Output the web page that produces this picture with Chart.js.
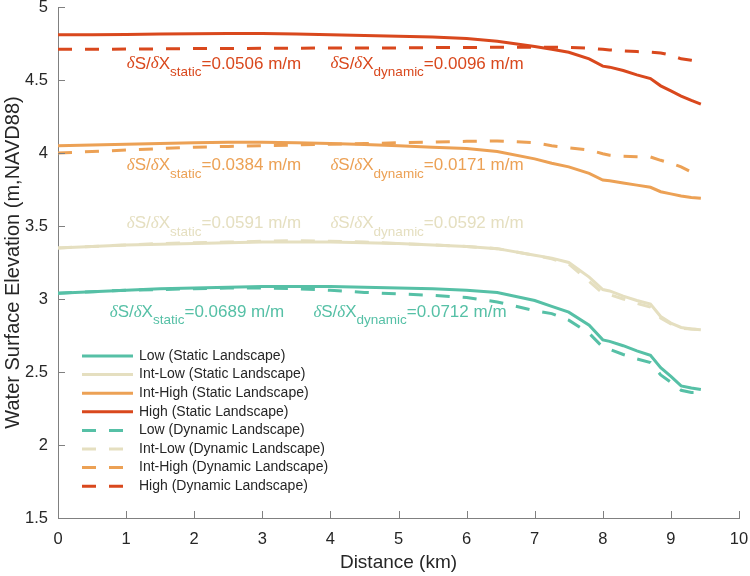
<!DOCTYPE html>
<html>
<head>
<meta charset="utf-8">
<script src="https://cdn.jsdelivr.net/npm/chart.js@4"></script>
<style>
  html, body { margin: 0; padding: 0; background: #fff; }
  #wrap { width: 750px; height: 576px; }
</style>
</head>
<body>
<div id="wrap"><canvas id="elev"></canvas></div>
<script>
// distance along the channel (km)
const distance = [0, 0.5, 1, 1.5, 2, 2.5, 3, 3.5, 4, 4.5, 5, 5.5, 6, 6.45, 7, 7.25, 7.5, 7.8, 8.0, 8.1, 8.3, 8.5, 8.7, 8.85, 9.0, 9.15, 9.3, 9.44];

const lowStatic      = [3.04, 3.05, 3.06, 3.07, 3.075, 3.08, 3.085, 3.085, 3.085, 3.08, 3.075, 3.07, 3.06, 3.045, 2.99, 2.95, 2.91, 2.82, 2.72, 2.71, 2.68, 2.645, 2.615, 2.53, 2.47, 2.405, 2.39, 2.38];
const intLowStatic   = [3.35, 3.36, 3.37, 3.375, 3.38, 3.385, 3.39, 3.39, 3.39, 3.385, 3.38, 3.37, 3.36, 3.345, 3.30, 3.28, 3.25, 3.15, 3.065, 3.055, 3.02, 2.99, 2.965, 2.88, 2.835, 2.805, 2.795, 2.79];
const intHighStatic  = [4.05, 4.055, 4.06, 4.065, 4.07, 4.073, 4.073, 4.07, 4.065, 4.058, 4.05, 4.04, 4.03, 4.01, 3.96, 3.93, 3.905, 3.86, 3.815, 3.81, 3.795, 3.78, 3.765, 3.735, 3.72, 3.705, 3.695, 3.69];
const highStatic     = [4.81, 4.81, 4.812, 4.815, 4.817, 4.818, 4.818, 4.815, 4.81, 4.805, 4.80, 4.795, 4.785, 4.765, 4.73, 4.71, 4.69, 4.645, 4.595, 4.588, 4.565, 4.535, 4.51, 4.46, 4.425, 4.39, 4.36, 4.335];
const lowDynamic     = [3.04, 3.05, 3.06, 3.065, 3.07, 3.075, 3.075, 3.07, 3.06, 3.045, 3.035, 3.025, 3.01, 2.98, 2.92, 2.90, 2.855, 2.765, 2.67, 2.655, 2.62, 2.59, 2.565, 2.48, 2.43, 2.375, 2.36, 2.36];
const intLowDynamic  = [3.35, 3.36, 3.37, 3.38, 3.385, 3.39, 3.395, 3.40, 3.395, 3.39, 3.38, 3.37, 3.36, 3.345, 3.30, 3.275, 3.24, 3.12, 3.04, 3.03, 3.00, 2.97, 2.945, 2.87, 2.83, 2.80, 2.795, 2.79];
const intHighDynamic = [4.00, 4.01, 4.02, 4.03, 4.04, 4.045, 4.05, 4.055, 4.06, 4.065, 4.07, 4.075, 4.08, 4.083, 4.07, 4.05, 4.035, 4.02, 3.995, 3.985, 3.978, 3.975, 3.973, 3.95, 3.93, 3.905, 3.87, 3.845];
const highDynamic    = [4.71, 4.71, 4.712, 4.713, 4.715, 4.716, 4.717, 4.718, 4.72, 4.72, 4.72, 4.722, 4.723, 4.724, 4.725, 4.725, 4.724, 4.718, 4.71, 4.706, 4.70, 4.695, 4.69, 4.685, 4.67, 4.645, 4.635, 4.625];

const seriesLabels = ['Low (Static Landscape)', 'Int-Low (Static Landscape)', 'Int-High (Static Landscape)', 'High (Static Landscape)',
  'Low (Dynamic Landscape)', 'Int-Low (Dynamic Landscape)', 'Int-High (Dynamic Landscape)', 'High (Dynamic Landscape)'];
const slopeStatic  = ['0.0689', '0.0591', '0.0384', '0.0506'];
const slopeDynamic = ['0.0712', '0.0592', '0.0171', '0.0096'];

const xTicks = [0, 1, 2, 3, 4, 5, 6, 7, 8, 9, 10];
const yTicks = [1.5, 2, 2.5, 3, 3.5, 4, 4.5, 5];

const colors = ['#56c0a6', '#e5dfc0', '#eca155', '#d9481d'];
const SANS = '"Liberation Sans", Arial, sans-serif';
const INK = '#262626';

const allSeries = [lowStatic, intLowStatic, intHighStatic, highStatic, lowDynamic, intLowDynamic, intHighDynamic, highDynamic];

const datasets = allSeries.map((vals, i) => ({
  label: seriesLabels[i],
  data: vals.map((v, k) => ({ x: distance[k], y: v })),
  borderColor: colors[i % 4],
  borderWidth: 3,
  borderDash: i < 4 ? [] : [14, 13],
  pointRadius: 0,
  tension: 0,
  fill: false
}));

// annotation anchors (data coords of the left end / vertical middle of each text)
const notePos = [
  { y: 2.91, xs: 0.76, xd: 3.75 },
  { y: 3.515, xs: 1.01, xd: 4.0 },
  { y: 3.915, xs: 1.01, xd: 4.0 },
  { y: 4.61, xs: 1.01, xd: 4.0 }
];

function drawSlope(ctx, x, y, sub, val, color) {
  ctx.fillStyle = color;
  ctx.textBaseline = 'middle';
  ctx.textAlign = 'left';
  const parts = [
    ['δ', 'italic 17px "Liberation Serif", serif', 0],
    ['S/', '17px ' + SANS, 0],
    ['δ', 'italic 17px "Liberation Serif", serif', 0],
    ['X', '17px ' + SANS, 0],
    [sub, '13.5px ' + SANS, 8.5],
    ['=' + val + ' m/m', '17px ' + SANS, 0]
  ];
  let cx = x;
  parts.forEach(p => {
    ctx.font = p[1];
    ctx.fillText(p[0], cx, y + p[2]);
    cx += ctx.measureText(p[0]).width;
  });
}

const decor = {
  id: 'decor',
  afterDraw(chart) {
    const ctx = chart.ctx;
    const xs = chart.scales.x, ys = chart.scales.y;
    const area = chart.chartArea;
    ctx.save();
    // inward ticks
    ctx.strokeStyle = '#808080';
    ctx.lineWidth = 1;
    ctx.beginPath();
    xTicks.forEach(v => {
      const px = Math.round(xs.getPixelForValue(v)) + 0.5;
      ctx.moveTo(px, area.bottom);
      ctx.lineTo(px, area.bottom - 7);
    });
    yTicks.forEach(v => {
      const py = Math.round(ys.getPixelForValue(v)) + 0.5;
      ctx.moveTo(area.left, py);
      ctx.lineTo(area.left + 7, py);
    });
    ctx.stroke();

    // slope annotations
    notePos.forEach((p, i) => {
      const py = ys.getPixelForValue(p.y);
      drawSlope(ctx, xs.getPixelForValue(p.xs), py, 'static', slopeStatic[i], colors[i]);
      drawSlope(ctx, xs.getPixelForValue(p.xd), py, 'dynamic', slopeDynamic[i], colors[i]);
    });

    // legend inside the axes
    const lx0 = 82, lx1 = 133, tx = 139, ty0 = 356, dy = 18.6;
    chart.data.datasets.forEach((ds, i) => {
      const yy = ty0 + i * dy;
      ctx.strokeStyle = ds.borderColor;
      ctx.lineWidth = 3;
      ctx.setLineDash(ds.borderDash);
      ctx.beginPath();
      ctx.moveTo(lx0, yy);
      ctx.lineTo(lx1, yy);
      ctx.stroke();
      ctx.setLineDash([]);
      ctx.fillStyle = INK;
      ctx.font = '14px ' + SANS;
      ctx.textBaseline = 'middle';
      ctx.textAlign = 'left';
      ctx.fillText(ds.label, tx, yy);
    });
    ctx.restore();
  }
};

Chart.defaults.font.family = SANS;
Chart.defaults.color = INK;

new Chart(document.getElementById('elev'), {
  type: 'line',
  data: { datasets: datasets },
  options: {
    responsive: true,
    maintainAspectRatio: false,
    animation: false,
    layout: { padding: { top: 7, right: 11, left: 0, bottom: 0 } },
    plugins: {
      legend: { display: false },
      tooltip: { enabled: false }
    },
    scales: {
      x: {
        type: 'linear',
        min: 0, max: 10,
        afterBuildTicks: s => { s.ticks = xTicks.map(v => ({ value: v })); },
        afterFit: s => { s.height = 58; s.paddingLeft = 0; s.paddingRight = 0; },
        ticks: { font: { size: 16.5 }, color: INK, padding: 12, maxRotation: 0, callback: v => String(v) },
        grid: { display: true, drawOnChartArea: false, drawTicks: false },
        border: { display: true, color: '#808080', width: 1 },
        title: { display: true, text: 'Distance (km)', font: { size: 19 }, color: INK, padding: { top: 2, bottom: 2 } }
      },
      y: {
        type: 'linear',
        min: 1.5, max: 5,
        afterBuildTicks: s => { s.ticks = yTicks.map(v => ({ value: v })); },
        afterFit: s => { s.width = 58; s.paddingTop = 0; s.paddingBottom = 0; },
        ticks: { font: { size: 16.5 }, color: INK, padding: 10, callback: v => String(v) },
        grid: { display: true, drawOnChartArea: false, drawTicks: false },
        border: { display: true, color: '#808080', width: 1 },
        title: { display: true, text: 'Water Surface Elevation (m,NAVD88)', font: { size: 20 }, color: INK, padding: { top: 1, bottom: 2 } }
      }
    }
  },
  plugins: [decor]
});
</script>
</body>
</html>
